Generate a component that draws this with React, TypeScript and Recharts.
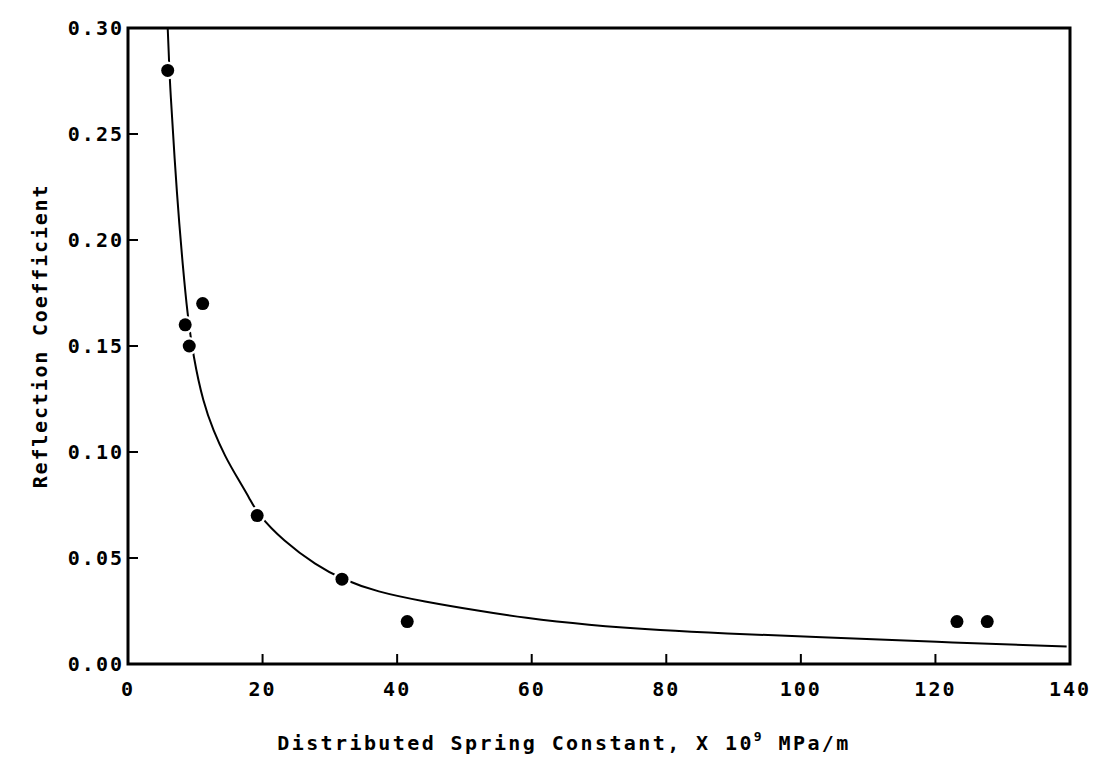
import { ComposedChart, Line, Scatter, XAxis, YAxis, ReferenceArea, Label } from 'recharts'

// measured reflection coefficient vs. distributed spring constant
const springConstant = [5.9, 8.5, 9.1, 11.1, 19.2, 31.8, 41.5, 123.2, 127.7]
const reflection = [0.28, 0.16, 0.15, 0.17, 0.07, 0.04, 0.02, 0.02, 0.02]

// fitted curve, traced point by point
const curveX = [5.9, 6.1, 6.2, 7.3, 8.2, 8.8, 9.7, 11.2, 12.7, 14.4, 16.4, 18.1, 19.2, 23.1, 28.0, 31.8, 37.0, 43.9, 52.3, 58.7, 68.2, 79.6, 88.0, 102.8, 119.7, 139.5]
const curveY = [0.3, 0.285, 0.275, 0.219, 0.186, 0.166, 0.145, 0.123, 0.11, 0.098, 0.087, 0.078, 0.071, 0.058, 0.0465, 0.04, 0.034, 0.0295, 0.025, 0.0218, 0.0184, 0.0158, 0.0145, 0.0127, 0.0105, 0.0082]

const xTicks = [0, 20, 40, 60, 80, 100, 120, 140]
const yTicks = [0, 0.05, 0.1, 0.15, 0.2, 0.25, 0.3]

const points = springConstant.map((x, i) => ({ x, y: reflection[i] }))
const curve = curveX.map((x, i) => ({ x, y: curveY[i] }))

const FONT = '"DejaVu Sans Mono", monospace'
const TICK_LEN = 10

function XTick({ x, y, payload }: any) {
  return (
    <g>
      <line x1={x} x2={x} y1={y} y2={y - TICK_LEN} stroke="#000" strokeWidth={2} />
      <text x={x} y={y + 32} textAnchor="middle" fontFamily={FONT} fontSize={20} fontWeight="bold" letterSpacing={2} fill="#000">
        {payload.value}
      </text>
    </g>
  )
}

function YTick({ x, y, payload }: any) {
  return (
    <g>
      <line x1={x} x2={x + TICK_LEN} y1={y} y2={y} stroke="#000" strokeWidth={2} />
      <text x={x - 4} y={y + 7} textAnchor="end" fontFamily={FONT} fontSize={20} fontWeight="bold" letterSpacing={2} fill="#000">
        {payload.value.toFixed(2)}
      </text>
    </g>
  )
}

function XTitle({ viewBox }: any) {
  const cx = viewBox.x + viewBox.width / 2 - 35
  return (
    <text x={cx} y={viewBox.y + 86} textAnchor="middle" fontFamily={FONT} fontSize={20} fontWeight="bold" letterSpacing={2.4} fill="#000">
      Distributed Spring Constant, X 10
      <tspan dy={-9} fontSize={13}>9</tspan>
      <tspan dy={9}> MPa/m</tspan>
    </text>
  )
}

function YTitle({ viewBox }: any) {
  const cx = viewBox.x + 32
  const cy = viewBox.y + viewBox.height / 2 - 10
  return (
    <text
      x={cx}
      y={cy}
      transform={`rotate(-90 ${cx} ${cy})`}
      textAnchor="middle"
      dominantBaseline="central"
      fontFamily={FONT}
      fontSize={20}
      fontWeight="bold"
      letterSpacing={1.8}
      fill="#000"
    >
      Reflection Coefficient
    </text>
  )
}

function Dot({ cx, cy }: any) {
  return <circle cx={cx} cy={cy} r={6.5} fill="#000" stroke="#fff" strokeWidth={5} paintOrder="stroke" />
}

export default function App() {
  return (
    <div style={{ background: '#fff' }}>
      <ComposedChart width={1096} height={758} margin={{ top: 20, right: 34, bottom: 0, left: 0 }}>
        <XAxis
          type="number"
          dataKey="x"
          domain={[0, 140]}
          ticks={xTicks}
          allowDataOverflow
          axisLine={false}
          tickLine={false}
          tickSize={0}
          tickMargin={0}
          height={102}
          tick={<XTick />}
        >
          <Label content={<XTitle />} />
        </XAxis>
        <YAxis
          type="number"
          dataKey="y"
          domain={[0, 0.3]}
          ticks={yTicks}
          allowDataOverflow
          axisLine={false}
          tickLine={false}
          tickSize={0}
          tickMargin={0}
          width={120}
          tick={<YTick />}
        >
          <Label content={<YTitle />} />
        </YAxis>
        <ReferenceArea x1={0} x2={140} y1={0} y2={0.3} fill="none" stroke="#000" strokeWidth={3} />
        <Line
          data={curve}
          dataKey="y"
          type="basis"
          stroke="#000"
          strokeWidth={2}
          dot={false}
          isAnimationActive={false}
        />
        <Scatter data={points} dataKey="y" shape={<Dot />} isAnimationActive={false} />
      </ComposedChart>
    </div>
  )
}
